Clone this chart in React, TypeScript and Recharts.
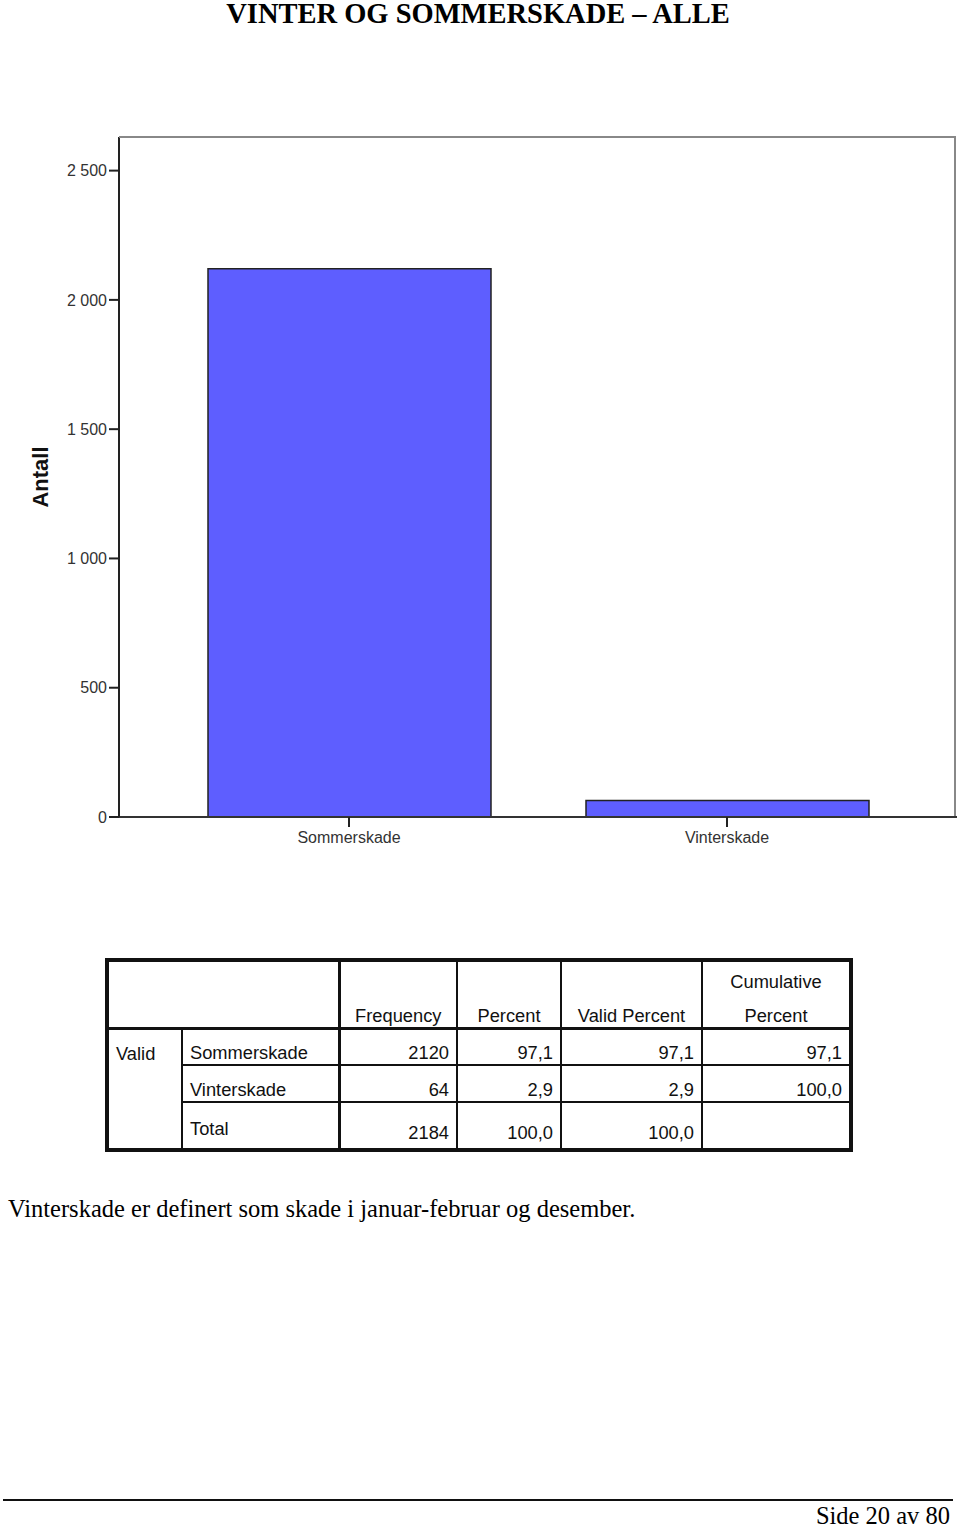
import { BarChart, Bar, XAxis, YAxis, Cell } from 'recharts'

const categories = ['Sommerskade', 'Vinterskade']
const counts = [2120, 64]
const yTicks = [0, 500, 1000, 1500, 2000, 2500]

const tableRows = [
  { name: 'Sommerskade', freq: '2120', pct: '97,1', valid: '97,1', cum: '97,1' },
  { name: 'Vinterskade', freq: '64', pct: '2,9', valid: '2,9', cum: '100,0' },
  { name: 'Total', freq: '2184', pct: '100,0', valid: '100,0', cum: '' },
]

const data = categories.map((c, i) => ({ name: c, antall: counts[i] }))

const fmt = (v: number) => (v >= 1000 ? `${Math.floor(v / 1000)} ${String(v % 1000).padStart(3, '0')}` : String(v))

const sans = 'Arial, "Liberation Sans", sans-serif'
const serif = '"Liberation Serif", "Times New Roman", serif'

const cellBase: React.CSSProperties = {
  fontFamily: sans,
  fontSize: 18.3,
  color: '#111',
  padding: '0 7px 0 7px',
  boxSizing: 'border-box',
}

const AntallLabel = (props: any) => {
  const vb = props.viewBox
  const x = 40
  const y = vb.y + vb.height / 2
  return (
    <text x={x} y={y} transform={`rotate(-90 ${x} ${y})`} textAnchor="middle" dominantBaseline="central"
      style={{ fontSize: 22, fontWeight: 'bold', fill: '#111', fontFamily: sans }}>
      Antall
    </text>
  )
}

export default function App() {
  const thin = '2px solid #111'
  const thick = '3px solid #111'
  return (
    <div style={{ position: 'absolute', left: 0, top: 0, width: 960, height: 1527, background: '#fff' }}>
      <div style={{
        position: 'absolute', left: 0, top: -1, width: 956, textAlign: 'center',
        fontFamily: serif, fontWeight: 'bold', fontSize: 28.5, lineHeight: '29px',
      }}>
        VINTER OG SOMMERSKADE – ALLE
      </div>

      <div style={{ position: 'absolute', left: 0, top: 120 }}>
        <BarChart width={960} height={740} data={data} margin={{ top: 17, right: 3, bottom: 0, left: 0 }} barCategoryGap={0}>
          <XAxis
            dataKey="name"
            height={43}
            padding={{ left: 41, right: 41 }}
            axisLine={{ stroke: '#333', strokeWidth: 2 }}
            tickLine={{ stroke: '#222', strokeWidth: 2 }}
            tickSize={10}
            tick={{ fill: '#333', fontSize: 16, fontFamily: sans, dy: 3 }}
          />
          <YAxis
            width={119}
            domain={[0, 2630]}
            ticks={yTicks}
            tickFormatter={fmt}
            interval={0}
            axisLine={{ stroke: '#222', strokeWidth: 2 }}
            tickLine={{ stroke: '#222', strokeWidth: 2 }}
            tickSize={10}
            tick={{ fill: '#333', fontSize: 16, fontFamily: sans }}
            label={<AntallLabel />}
          />
          <Bar dataKey="antall" barSize={283} stroke="#222" strokeWidth={1.5} isAnimationActive={false}>
            {data.map((d, i) => <Cell key={i} fill="#5e5eff" />)}
          </Bar>
        </BarChart>
      </div>
      {/* plot frame, top and right */}
      <div style={{ position: 'absolute', left: 119, top: 136, width: 837, height: 680, borderTop: '2px solid #888', borderRight: '2px solid #888', boxSizing: 'border-box' }} />

      <table style={{
        position: 'absolute', left: 105, top: 958, borderCollapse: 'collapse', border: '4px solid #111',
        tableLayout: 'fixed', width: 744,
      }}>
        <colgroup>
          <col style={{ width: 75 }} />
          <col style={{ width: 157 }} />
          <col style={{ width: 118 }} />
          <col style={{ width: 104 }} />
          <col style={{ width: 141 }} />
          <col style={{ width: 149 }} />
        </colgroup>
        <tbody>
          <tr style={{ height: 68 }}>
            <td colSpan={2} style={{ ...cellBase, borderBottom: thick, borderRight: thick }} />
            {['Frequency', 'Percent', 'Valid Percent'].map((h, i) => (
              <td key={i} style={{ ...cellBase, borderBottom: thick, borderRight: thin, textAlign: 'center', verticalAlign: 'bottom' }}>{h}</td>
            ))}
            <td style={{ ...cellBase, borderBottom: thick, textAlign: 'center', verticalAlign: 'bottom' }}>
              <div style={{ marginBottom: 12 }}>Cumulative</div>
              <div>Percent</div>
            </td>
          </tr>
          {tableRows.map((r, i) => (
            <tr key={i} style={{ height: i === 2 ? 48 : 37 }}>
              {i === 0 && (
                <td rowSpan={3} style={{ ...cellBase, borderRight: thin, verticalAlign: 'top', paddingTop: 13 }}>Valid</td>
              )}
              <td style={{
                ...cellBase, borderRight: thick, borderBottom: i < 2 ? thin : undefined,
                verticalAlign: i === 2 ? 'top' : 'bottom', paddingTop: i === 2 ? 15 : 0, paddingBottom: 0,
              }}>{r.name}</td>
              {[r.freq, r.pct, r.valid, r.cum].map((v, j) => (
                <td key={j} style={{
                  ...cellBase, textAlign: 'right', borderRight: j < 3 ? thin : undefined,
                  borderBottom: i < 2 ? thin : undefined, verticalAlign: 'bottom',
                  paddingBottom: i === 2 ? 4 : 0,
                }}>{v}</td>
              ))}
            </tr>
          ))}
        </tbody>
      </table>

      <div style={{ position: 'absolute', left: 8, top: 1195, fontFamily: serif, fontSize: 24.5 }}>
        Vinterskade er definert som skade i januar-februar og desember.
      </div>

      <div style={{ position: 'absolute', left: 3, top: 1499, width: 950, borderTop: '2px solid #111' }} />
      <div style={{ position: 'absolute', right: 10, top: 1502, fontFamily: serif, fontSize: 24.5 }}>
        Side 20 av 80
      </div>
    </div>
  )
}
